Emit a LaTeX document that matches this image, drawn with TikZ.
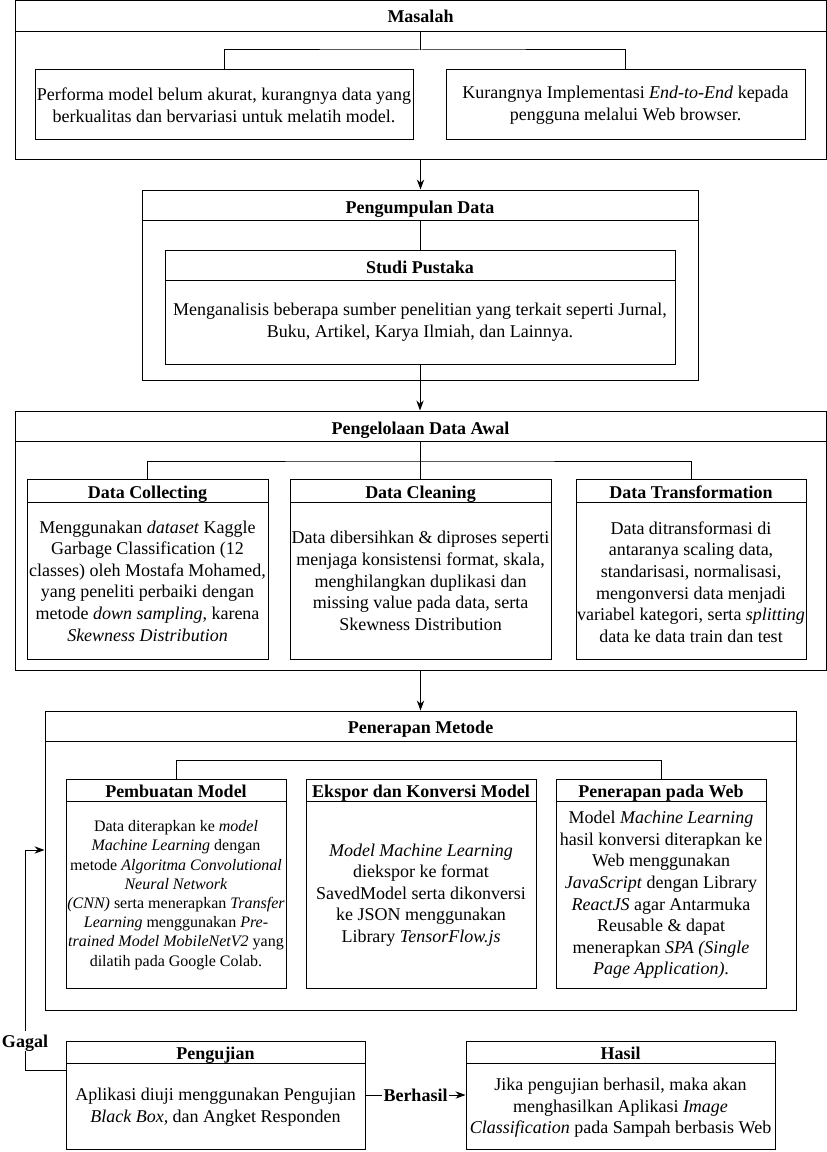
\documentclass[tikz,border=0pt]{standalone}
\usepackage{fontspec}
\setmainfont{Liberation Serif}
\usetikzlibrary{positioning,fit,arrows.meta}

\tikzset{
    box/.style={draw, rectangle, inner sep=0pt},
    head/.style={font=\fontsize{13.5}{16.2}\selectfont\bfseries, inner sep=0pt, text height=11pt, text depth=2pt},
    txt/.style={align=center, font=\fontsize{13.5}{16.2}\selectfont, inner sep=0pt},
    small/.style={align=center, font=\fontsize{12}{14.4}\selectfont, inner sep=0pt},
    arr/.style={-{Stealth[length=7.5pt,width=5.5pt]}},
    lbl/.style={fill=white, inner sep=1pt, text height=11pt, text depth=2pt, font=\fontsize{13.5}{16.2}\selectfont\bfseries}
}

\begin{document}
\begin{tikzpicture}[x=0.75pt,y=-0.75pt,line width=0.75pt]
    \useasboundingbox (0,0) rectangle (827,1152);

    % Masalah
    \node[box, fit={(15,1) (826,160)}] (masalah) {};
    \draw (15,32) -- (826,32);
    \node[head] (masalahT) at (420.5,17) {Masalah};
    \node[box, fit={(35,70) (413,140)}] (m1) {};
    \node[txt] (m1T) at (224,105) {Performa model belum akurat, kurangnya data yang\\berkualitas dan bervariasi untuk melatih model.};
    \node[box, fit={(446,70) (805,140)}] (m2) {};
    \node[txt] (m2T) at (625.5,105) {Kurangnya Implementasi \textit{End-to-End} kepada\\pengguna melalui Web browser.};
    \coordinate (hM) at (420.5,32);
    \draw (hM) -- (420.5,50) coordinate (jM);
    \draw (m1.north) |- (jM) -| (m2.north);

    % Pengumpulan Data
    \node[box, fit={(142,190) (698,380)}] (kumpul) {};
    \draw (142,220) -- (698,220);
    \node[head] (kumpulT) at (420,207) {Pengumpulan Data};
    \node[box, fit={(165,250) (675,364)}] (studi) {};
    \draw (165,280) -- (675,280);
    \node[head] (studiT) at (420,267) {Studi Pustaka};
    \node[txt] (studiB) at (420,322) {Menganalisis beberapa sumber penelitian yang terkait seperti Jurnal,\\Buku, Artikel, Karya Ilmiah, dan Lainnya.};
    \coordinate (hK) at (420,220);
    \draw (hK) -- (studi.north);
    \draw[arr] (masalah.south) -- (masalah.south |- kumpul.north);

    % Pengelolaan Data Awal
    \node[box, fit={(15,411) (826,670)}] (kelola) {};
    \draw (15,441) -- (826,441);
    \node[head] (kelolaT) at (420.5,428) {Pengelolaan Data Awal};
    \node[box, fit={(27,479) (268,659)}] (dc) {};
    \draw (27,502) -- (268,502);
    \node[head] (dcT) at (147.5,492) {Data Collecting};
    \node[txt] (dcB) at (147.5,581) {Menggunakan \textit{dataset} Kaggle\\Garbage Classification (12\\classes) oleh Mostafa Mohamed,\\yang peneliti perbaiki dengan\\metode \textit{down sampling}, karena\\\textit{Skewness Distribution}};
    \node[box, fit={(290,479) (551,659)}] (dcl) {};
    \draw (290,502) -- (551,502);
    \node[head] (dclT) at (420.5,492) {Data Cleaning};
    \node[txt] (dclB) at (420.5,581) {Data dibersihkan \& diproses seperti\\menjaga konsistensi format, skala,\\menghilangkan duplikasi dan\\missing value pada data, serta\\Skewness Distribution};
    \node[box, fit={(576,479) (806,659)}] (dt) {};
    \draw (576,502) -- (806,502);
    \node[head] (dtT) at (691,492) {Data Transformation};
    \node[txt] (dtB) at (691,582) {Data ditransformasi di\\antaranya scaling data,\\standarisasi, normalisasi,\\mengonversi data menjadi\\variabel kategori, serta \textit{splitting}\\data ke data train dan test};
    \coordinate (hL) at (420.5,441);
    \draw (hL) -- (420.5,461) coordinate (jL);
    \draw (dc.north) |- (jL) -| (dt.north);
    \draw (jL) -- (dcl.north);
    \draw[arr] (studi.south) -- (studi.south |- kelola.north);

    % Penerapan Metode
    \node[box, fit={(45,711) (796,1010)}] (terap) {};
    \draw (45,741) -- (796,741);
    \node[head] (terapT) at (420.5,727) {Penerapan Metode};
    \node[box, fit={(66,779) (286,988)}] (pm) {};
    \draw (66,801) -- (286,801);
    \node[head] (pmT) at (176,791) {Pembuatan Model};
    \node[small] (pmB) at (176,895) {Data diterapkan ke \textit{model}\\\textit{Machine Learning} dengan\\metode \textit{Algoritma Convolutional}\\\textit{Neural Network}\\\textit{(CNN)} serta menerapkan \textit{Transfer}\\\textit{Learning} menggunakan \textit{Pre-}\\\textit{trained Model MobileNetV2} yang\\dilatih pada Google Colab.};
    \node[box, fit={(306,779) (536,988)}] (ek) {};
    \draw (306,801) -- (536,801);
    \node[head] (ekT) at (421,791) {Ekspor dan Konversi Model};
    \node[txt] (ekB) at (421,895) {\textit{Model Machine Learning}\\diekspor ke format\\SavedModel serta dikonversi\\ke JSON menggunakan\\Library \textit{TensorFlow.js}};
    \node[box, fit={(556,779) (766,988)}] (web) {};
    \draw (556,801) -- (766,801);
    \node[head] (webT) at (661,791) {Penerapan pada Web};
    \node[txt] (webB) at (661,895) {Model \textit{Machine Learning}\\hasil konversi diterapkan ke\\Web menggunakan\\\textit{JavaScript} dengan Library\\\textit{ReactJS} agar Antarmuka\\Reusable \& dapat\\menerapkan \textit{SPA (Single}\\\textit{Page Application)}.};
    \draw (pm.north) -- ++(0,-18) -| (web.north);
    \draw[arr] (kelola.south) -- (kelola.south |- terap.north);

    % Pengujian dan Hasil
    \node[box, fit={(66,1041) (365,1149)}] (uji) {};
    \draw (66,1063) -- (365,1063);
    \node[head] (ujiT) at (215.5,1053) {Pengujian};
    \node[txt] (ujiB) at (215.5,1107) {Aplikasi diuji menggunakan Pengujian\\\textit{Black Box,} dan Angket Responden};
    \node[box, fit={(466,1041) (775,1149)}] (hasil) {};
    \draw (466,1063) -- (775,1063);
    \node[head] (hasilT) at (620.5,1053) {Hasil};
    \node[txt] (hasilB) at (620.5,1108) {Jika pengujian berhasil, maka akan\\menghasilkan Aplikasi \textit{Image}\\\textit{Classification} pada Sampah berbasis Web};
    \draw[arr] (uji.east) -- node[lbl] {Berhasil} (hasil.west);
    \coordinate (gA) at (66,1070);
    \draw[arr] (gA) -- (25,1070) -- node[lbl, pos=0.13] {Gagal} (25,850) -- (terap.west |- 25,850);
\end{tikzpicture}
\end{document}
